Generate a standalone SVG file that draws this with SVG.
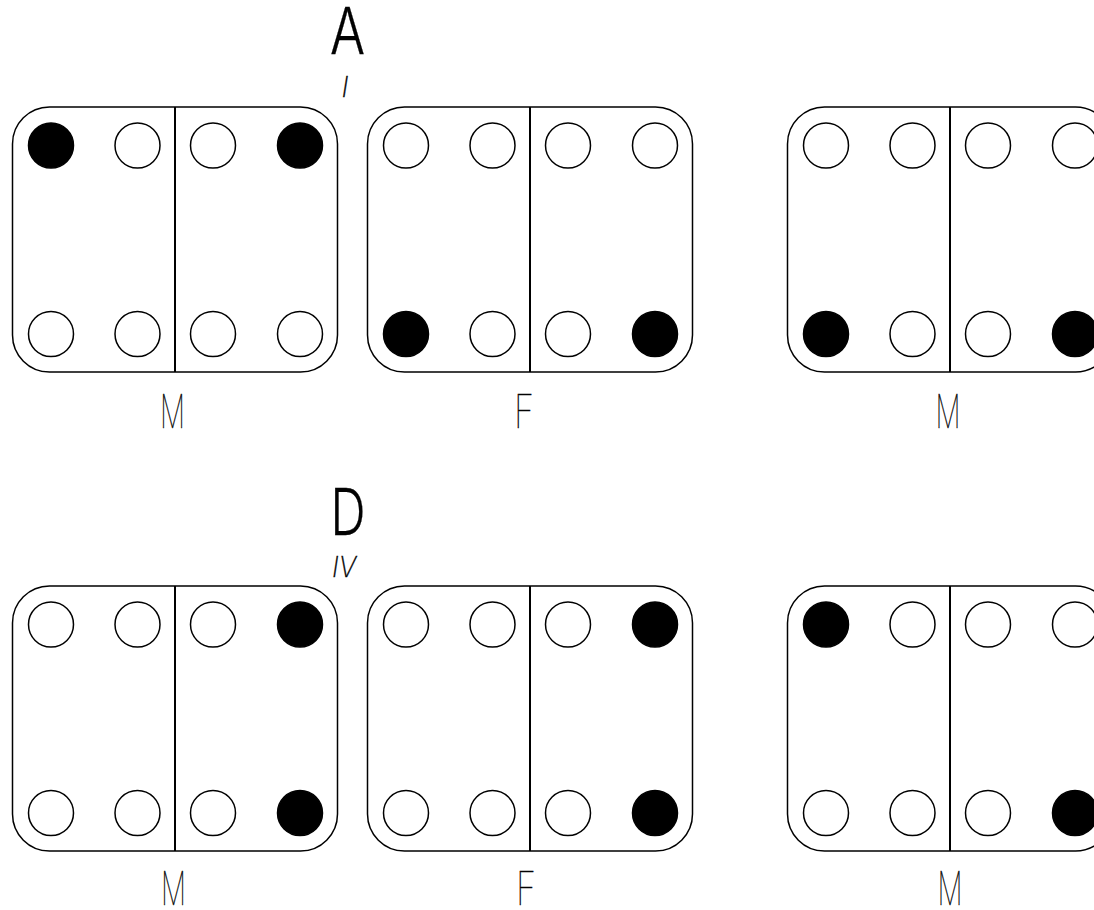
<svg xmlns="http://www.w3.org/2000/svg" width="1094" height="910" viewBox="0 0 1094 910">
<style>
.box{fill:none;stroke:#000;stroke-width:1.5}
.div{stroke:#000;stroke-width:2}
.o{fill:#fff;stroke:#000;stroke-width:1.5}
.f{fill:#000;stroke:#000;stroke-width:1.5}
.lbl{font-family:Inter,Roboto,"DejaVu Sans",sans-serif;font-weight:100;font-size:46px;fill:#000;stroke:#000;stroke-width:0.45;text-anchor:middle}
.big{font-family:Inter,Roboto,"DejaVu Sans",sans-serif;font-weight:300;font-size:64px;fill:#000;stroke:#000;stroke-width:0.3;text-anchor:middle}
.num{font-family:Inter,Roboto,"DejaVu Sans",sans-serif;font-weight:200;font-style:italic;font-size:28px;fill:#000;stroke:#000;stroke-width:0.3;text-anchor:middle}
</style>
<defs>
<g id="frame">
<rect class="box" x="0" y="0" width="325" height="265" rx="37" ry="37"/>
<line class="div" x1="162.5" y1="0" x2="162.5" y2="265"/>
</g>
</defs>
<rect width="1094" height="910" fill="#fff"/>
<g id="connectors"/>
<g id="boxA1" transform="translate(12.5,107)">
<use href="#frame"/>
<circle class="f" cx="38.5" cy="38.5" r="22.5"/><circle class="o" cx="125" cy="38.5" r="22.5"/><circle class="o" cx="200.5" cy="38.5" r="22.5"/><circle class="f" cx="287.5" cy="38.5" r="22.5"/>
<circle class="o" cx="38.5" cy="227" r="22.5"/><circle class="o" cx="125" cy="227" r="22.5"/><circle class="o" cx="200.5" cy="227" r="22.5"/><circle class="o" cx="287.5" cy="227" r="22.5"/>
</g>
<g id="boxA2" transform="translate(367.5,107)">
<use href="#frame"/>
<circle class="o" cx="38.5" cy="38.5" r="22.5"/><circle class="o" cx="125" cy="38.5" r="22.5"/><circle class="o" cx="200.5" cy="38.5" r="22.5"/><circle class="o" cx="287.5" cy="38.5" r="22.5"/>
<circle class="f" cx="38.5" cy="227" r="22.5"/><circle class="o" cx="125" cy="227" r="22.5"/><circle class="o" cx="200.5" cy="227" r="22.5"/><circle class="f" cx="287.5" cy="227" r="22.5"/>
</g>
<g id="boxA3" transform="translate(787.5,107)">
<use href="#frame"/>
<circle class="o" cx="38.5" cy="38.5" r="22.5"/><circle class="o" cx="125" cy="38.5" r="22.5"/><circle class="o" cx="200.5" cy="38.5" r="22.5"/><circle class="o" cx="287.5" cy="38.5" r="22.5"/>
<circle class="f" cx="38.5" cy="227" r="22.5"/><circle class="o" cx="125" cy="227" r="22.5"/><circle class="o" cx="200.5" cy="227" r="22.5"/><circle class="f" cx="287.5" cy="227" r="22.5"/>
</g>
<g id="boxD1" transform="translate(12.5,586)">
<use href="#frame"/>
<circle class="o" cx="38.5" cy="38.5" r="22.5"/><circle class="o" cx="125" cy="38.5" r="22.5"/><circle class="o" cx="200.5" cy="38.5" r="22.5"/><circle class="f" cx="287.5" cy="38.5" r="22.5"/>
<circle class="o" cx="38.5" cy="227" r="22.5"/><circle class="o" cx="125" cy="227" r="22.5"/><circle class="o" cx="200.5" cy="227" r="22.5"/><circle class="f" cx="287.5" cy="227" r="22.5"/>
</g>
<g id="boxD2" transform="translate(367.5,586)">
<use href="#frame"/>
<circle class="o" cx="38.5" cy="38.5" r="22.5"/><circle class="o" cx="125" cy="38.5" r="22.5"/><circle class="o" cx="200.5" cy="38.5" r="22.5"/><circle class="f" cx="287.5" cy="38.5" r="22.5"/>
<circle class="o" cx="38.5" cy="227" r="22.5"/><circle class="o" cx="125" cy="227" r="22.5"/><circle class="o" cx="200.5" cy="227" r="22.5"/><circle class="f" cx="287.5" cy="227" r="22.5"/>
</g>
<g id="boxD3" transform="translate(787.5,586)">
<use href="#frame"/>
<circle class="f" cx="38.5" cy="38.5" r="22.5"/><circle class="o" cx="125" cy="38.5" r="22.5"/><circle class="o" cx="200.5" cy="38.5" r="22.5"/><circle class="o" cx="287.5" cy="38.5" r="22.5"/>
<circle class="o" cx="38.5" cy="227" r="22.5"/><circle class="o" cx="125" cy="227" r="22.5"/><circle class="o" cx="200.5" cy="227" r="22.5"/><circle class="f" cx="287.5" cy="227" r="22.5"/>
</g>
<g id="labels" opacity="0.99">
<text class="big" x="347.5" y="54" textLength="35" lengthAdjust="spacingAndGlyphs">A</text>
<text class="num" x="345" y="97" textLength="7" lengthAdjust="spacingAndGlyphs">I</text>
<text class="big" x="348" y="535" textLength="35" lengthAdjust="spacingAndGlyphs">D</text>
<text class="num" x="344" y="577" textLength="24" lengthAdjust="spacingAndGlyphs">IV</text>
<text class="lbl" x="172.5" y="428" textLength="25" lengthAdjust="spacingAndGlyphs">M</text>
<text class="lbl" x="524" y="428" textLength="20" lengthAdjust="spacingAndGlyphs">F</text>
<text class="lbl" x="948" y="428" textLength="25" lengthAdjust="spacingAndGlyphs">M</text>
<text class="lbl" x="173.5" y="905" textLength="25" lengthAdjust="spacingAndGlyphs">M</text>
<text class="lbl" x="526" y="905" textLength="20" lengthAdjust="spacingAndGlyphs">F</text>
<text class="lbl" x="950" y="905" textLength="25" lengthAdjust="spacingAndGlyphs">M</text>
</g>
</svg>
